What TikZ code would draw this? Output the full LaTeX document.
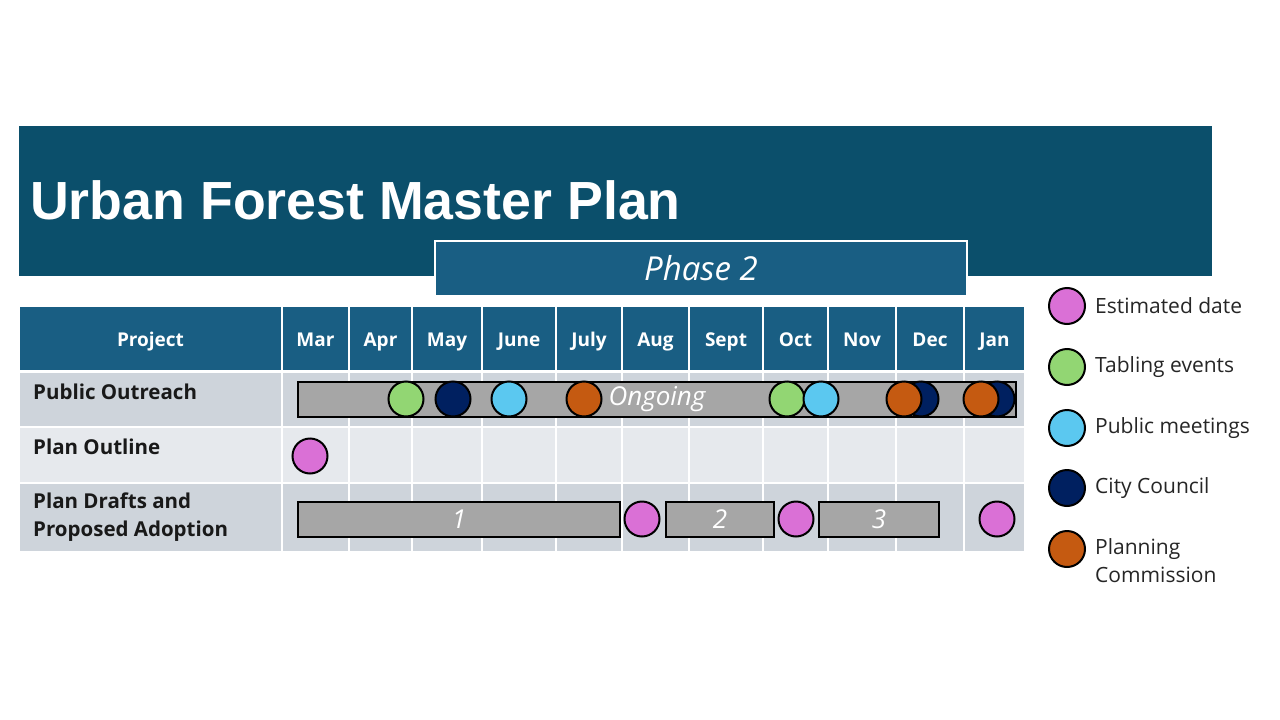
\documentclass[tikz,border=0pt]{standalone}
\usepackage{fontspec}
\setmainfont{Open Sans}
\newfontfamily\titlefont{Liberation Sans}
\definecolor{titlebg}{RGB}{11,79,107}
\definecolor{hdrblue}{RGB}{25,94,131}
\definecolor{rowdark}{RGB}{206,212,219}
\definecolor{rowlight}{RGB}{230,233,237}
\definecolor{bargray}{RGB}{166,166,166}
\definecolor{estpink}{RGB}{218,112,214}
\definecolor{tabgreen}{RGB}{146,214,115}
\definecolor{meetblue}{RGB}{91,200,240}
\definecolor{council}{RGB}{0,32,96}
\definecolor{planning}{RGB}{197,90,17}
\begin{document}
\begin{tikzpicture}[x=1pt,y=-1pt,
    every node/.style={inner sep=0pt},
    ev/.style={circle,draw=black,line width=2pt,minimum size=35pt,fill=#1},
    barbox/.style={draw=black,line width=2pt,fill=bargray,minimum height=35pt,
      text=white,font=\fontsize{26}{26}\selectfont\itshape},
    hdrtext/.style={text=white,font=\fontsize{19}{20}\selectfont\bfseries,anchor=base},
    rowtext/.style={font=\fontsize{20.5}{28}\selectfont\bfseries,text=black!90,
      align=left,anchor=west},
    keytext/.style={font=\fontsize{21}{28}\selectfont,text=black!85,
      align=left,anchor=west}]
  \useasboundingbox (0,0) rectangle (1280,720);
  \fill[white] (0,0) rectangle (1280,720);
  % title banner
  \fill[titlebg] (19,126) rectangle (1212,276);
  \node[anchor=base west,text=white,font=\titlefont\fontsize{53.7}{60}\selectfont\bfseries]
    (title) at (30,219) {Urban Forest Master Plan};
  \node[draw=white,line width=1.5pt,fill=hdrblue,minimum width=532pt,minimum height=55pt,
    text=white,font=\fontsize{33}{33}\selectfont\itshape] (phase) at (701,268.5) {Phase 2};
  % table cells
  \foreach [count=\i] \xa/\xb/\mon in {19/282/Project, 282/349/Mar, 349/412/Apr,
      412/482/May, 482/556/June, 556/622/July, 622/689/Aug, 689/763/Sept,
      763/828/Oct, 828/896/Nov, 896/964/Dec, 964/1025/Jan}
  {
    \fill[hdrblue] (\xa+1,307) rectangle (\xb-1,370);
    \node[hdrtext] (h\i) at ({(\xa+\xb)/2},346) {\mon};
    \fill[rowdark] (\xa+1,373) rectangle (\xb-1,426);
    \fill[rowlight] (\xa+1,428) rectangle (\xb-1,482);
    \fill[rowdark] (\xa+1,484) rectangle (\xb-1,551);
  }
  \node[rowtext] (r1) at (33,392) {Public Outreach};
  \node[rowtext] (r2) at (33,447) {Plan Outline};
  \node[rowtext] (r3) at (33,517) {Plan Drafts and\\Proposed Adoption};
  % bars
  \node[barbox,minimum width=718pt] (ongoing) at (657,399) {Ongoing};
  \node[barbox,minimum width=322pt] (d1) at (459,519) {1};
  \node[barbox,minimum width=108pt] (d2) at (720,519) {2};
  \node[barbox,minimum width=120pt] (d3) at (879,519) {3};
  % events
  \foreach [count=\i] \c/\x in {tabgreen/406, council/453, meetblue/509,
      planning/584, tabgreen/787, meetblue/821, council/921, planning/904,
      council/997, planning/981}
    \node[ev=\c] (po\i) at (\x,399) {};
  \node[ev=estpink] (ol1) at (310,456) {};
  \foreach [count=\i] \x in {642,796,997}
    \node[ev=estpink] (dd\i) at (\x,519) {};
  % legend
  \foreach [count=\i] \c/\y/\ty/\t in {estpink/306/306/Estimated date,
      tabgreen/367/367/Tabling events, meetblue/428/428/Public meetings,
      council/488/488/City Council, planning/549/561/Planning\\Commission}
  {
    \node[ev=\c,minimum size=36pt] (k\i) at (1067,\y) {};
    \node[keytext] (kt\i) at (1095,\ty) {\t};
  }
\end{tikzpicture}
\end{document}
